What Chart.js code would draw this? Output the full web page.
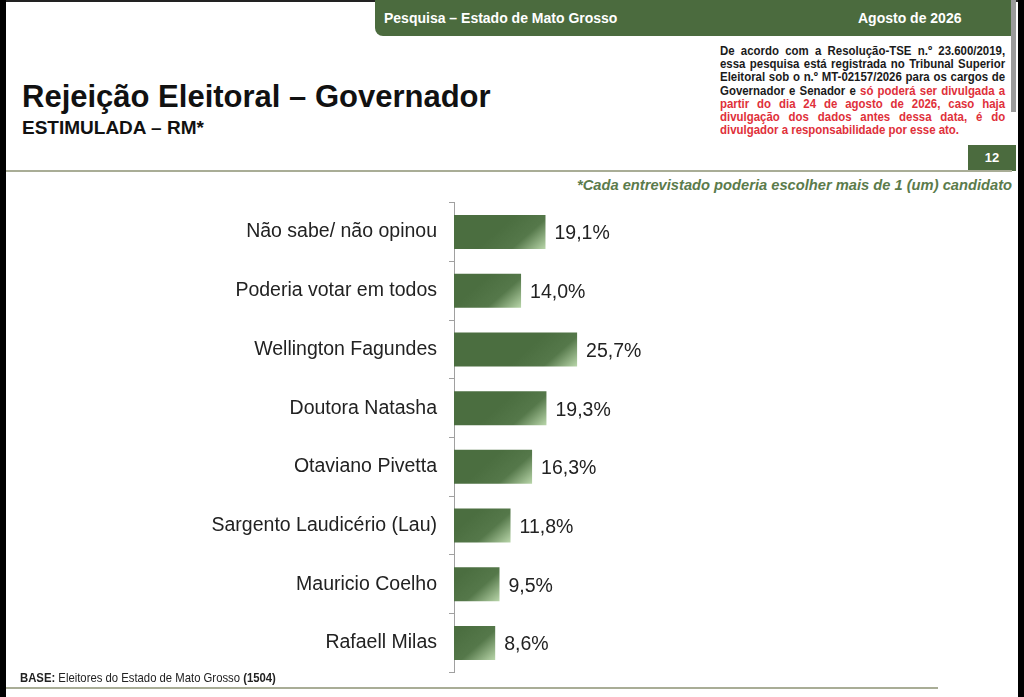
<!DOCTYPE html>
<html>
<head>
<meta charset="utf-8">
<script src="https://cdn.jsdelivr.net/npm/chart.js@4.4.0/dist/chart.umd.min.js"></script>
<style>
  html, body { margin: 0; padding: 0; background: #fff; }
  body { width: 1024px; height: 697px; position: relative; overflow: hidden; font-family: "Liberation Sans", Arial, sans-serif; }
  .abs { position: absolute; }
  #edgeLeft { left: 0; top: 0; width: 6px; height: 697px; background: #000; }
  #edgeRight { left: 1018px; top: 0; width: 6px; height: 697px; background: #000; }
  #edgeTop { left: 0; top: 0; width: 1024px; height: 2px; background: #222; }
  #scroll { left: 1011px; top: 0; width: 5px; height: 112px; background: #9a9a9a; }
  #header { left: 375px; top: 0; width: 636px; height: 36px; background: #4b6b3e; border-bottom-left-radius: 8px; color: #fff; font-weight: bold; font-size: 14px; }
  #header .l { position: absolute; left: 9px; top: 10px; }
  #header .r { position: absolute; left: 483px; top: 10px; }
  #title { left: 22px; top: 79px; font-size: 31px; font-weight: bold; color: #111; }
  #subtitle { left: 22px; top: 117px; font-size: 19px; font-weight: bold; color: #111; }
  #disc { left: 720px; top: 44px; width: 324px; transform: scaleX(0.88); transform-origin: 0 0; font-size: 13px; line-height: 13.2px; font-weight: bold; color: #1a1a1a; }
  #disc div { text-align: justify; text-align-last: justify; white-space: nowrap; }
  #disc div.last { text-align-last: left; }
  #disc .red { color: #e0303a; }
  #page { left: 968px; top: 145px; width: 48px; height: 26px; background: #4b6b3e; color: #fff; font-weight: bold; font-size: 13px; text-align: center; line-height: 26px; }
  #rule1 { left: 6px; top: 170px; width: 1006px; height: 2px; background: #a9ad96; }
  #note { right: 12px; top: 177px; font-size: 14.7px; font-weight: bold; font-style: italic; color: #5b7b4b; }
  #base { left: 20px; top: 670px; font-size: 13px; color: #222; transform: scaleX(0.87); transform-origin: 0 0; white-space: nowrap; }
  #rule2 { left: 6px; top: 687px; width: 932px; height: 2px; background: #a9ad96; }
  #wrap { left: 0; top: 179px; width: 1024px; height: 517px; }
</style>
</head>
<body>
<div class="abs" id="edgeTop"></div>
<div class="abs" id="header"><span class="l">Pesquisa – Estado de Mato Grosso</span><span class="r">Agosto de 2026</span></div>
<div class="abs" id="scroll"></div>
<div class="abs" id="title">Rejeição Eleitoral – Governador</div>
<div class="abs" id="subtitle">ESTIMULADA – RM*</div>
<div class="abs" id="disc">
  <div>De acordo com a Resolução-TSE n.º 23.600/2019,</div>
  <div>essa pesquisa está registrada no Tribunal Superior</div>
  <div>Eleitoral sob o n.º MT-02157/2026 para os cargos de</div>
  <div>Governador e Senador e <span class="red">só poderá ser divulgada a</span></div>
  <div class="red">partir do dia 24 de agosto de 2026, caso haja</div>
  <div class="red">divulgação dos dados antes dessa data, é do</div>
  <div class="red last">divulgador a responsabilidade por esse ato.</div>
</div>
<div class="abs" id="page">12</div>
<div class="abs" id="rule1"></div>
<div class="abs" id="note">*Cada entrevistado poderia escolher mais de 1 (um) candidato</div>
<div class="abs" id="wrap"><canvas id="chart"></canvas></div>
<div class="abs" id="base"><b>BASE:</b> Eleitores do Estado de Mato Grosso <b>(1504)</b></div>
<div class="abs" id="rule2"></div>
<div class="abs" id="edgeLeft"></div>
<div class="abs" id="edgeRight"></div>

<script>
const categories = [
  "Não sabe/ não opinou",
  "Poderia votar em todos",
  "Wellington Fagundes",
  "Doutora Natasha",
  "Otaviano Pivetta",
  "Sargento Laudicério (Lau)",
  "Mauricio Coelho",
  "Rafaell Milas"
];
const rejection = [19.1, 14.0, 25.7, 19.3, 16.3, 11.8, 9.5, 8.6];

// bar fill: dark green with a light streak at the bar's end
function barFill(ctx) {
  const chart = ctx.chart;
  if (!chart.chartArea || !chart.scales.x || !chart.scales.y) return "#4b6e40";
  const x1 = chart.scales.x.getPixelForValue(ctx.raw);
  const yc = chart.scales.y.getPixelForValue(ctx.dataIndex);
  const g = chart.ctx.createLinearGradient(x1 - 30, yc - 17, x1, yc + 17);
  g.addColorStop(0, "#4b6e40");
  g.addColorStop(0.5, "#55784a");
  g.addColorStop(1, "#b9d6aa");
  return g;
}

const valueLabels = {
  id: "valueLabels",
  afterDatasetsDraw(chart) {
    const c = chart.ctx;
    const meta = chart.getDatasetMeta(0);
    c.save();
    c.font = "19.5px 'Liberation Sans', Arial, sans-serif";
    c.fillStyle = "#222";
    c.textAlign = "left";
    c.textBaseline = "middle";
    meta.data.forEach((bar, i) => {
      const txt = rejection[i].toFixed(1).replace(".", ",") + "%";
      c.fillText(txt, bar.x + 9, bar.y + 2);
    });
    c.restore();
  }
};

const ctx = document.getElementById("chart").getContext("2d");
new Chart(ctx, {
  type: "bar",
  data: {
    labels: categories,
    datasets: [{
      data: rejection,
      backgroundColor: barFill,
      borderWidth: 0,
      categoryPercentage: 1,
      barPercentage: 0.58
    }]
  },
  options: {
    indexAxis: "y",
    responsive: true,
    maintainAspectRatio: false,
    animation: false,
    layout: { padding: { top: 8, bottom: 5, left: 0, right: 91 } },
    plugins: { legend: { display: false }, tooltip: { enabled: false } },
    scales: {
      x: { display: false, min: 0, max: 100 },
      y: {
        afterFit(scale) { scale.width = 454; },
        border: { display: true, color: "#a0a0a0", width: 1 },
        grid: { drawOnChartArea: false, drawTicks: true, tickLength: 5, color: "#a0a0a0", offset: true },
        ticks: { color: "#222", padding: 12, font: { size: 19.5, family: "'Liberation Sans', Arial, sans-serif" } }
      }
    }
  },
  plugins: [valueLabels]
});
</script>
</body>
</html>
